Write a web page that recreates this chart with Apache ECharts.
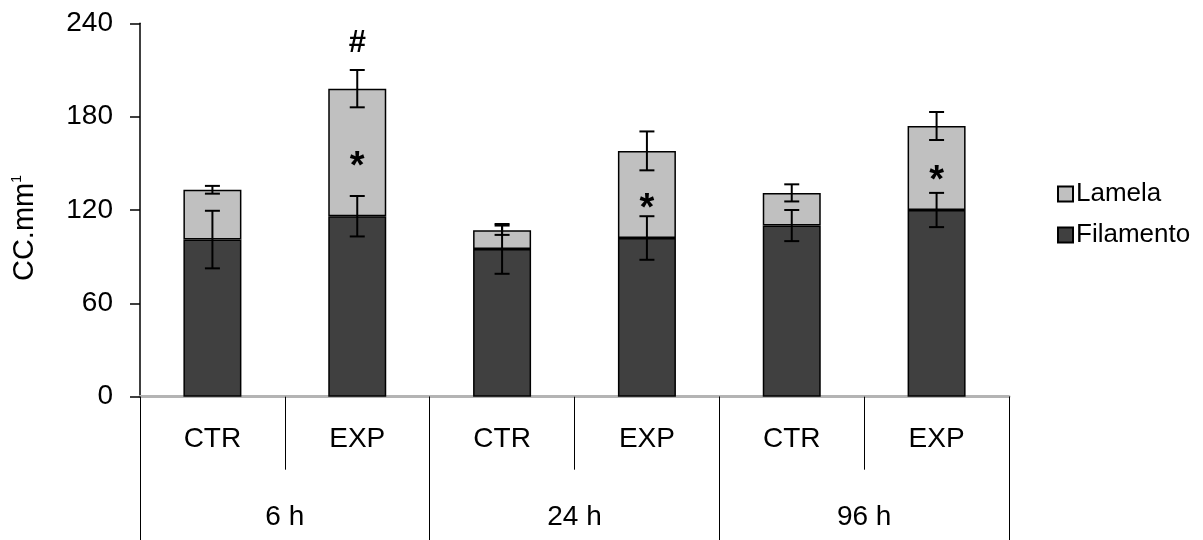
<!DOCTYPE html>
<html>
<head>
<meta charset="utf-8">
<script src="https://cdn.jsdelivr.net/npm/echarts@6/dist/echarts.min.js"></script>
<style>
html,body{margin:0;padding:0;background:#fff;}
#chart{width:1203px;height:540px;}
</style>
</head>
<body>
<div id="chart"></div>
<script>
// ---- data ----
var categories = ['CTR', 'EXP', 'CTR', 'EXP', 'CTR', 'EXP'];
var groups = ['6 h', '24 h', '96 h'];
var filamento = [101, 116, 95, 102, 110, 120];
var lamela = [32, 82, 12, 56, 21, 54];
var filamentoErr = [18.5, 13, 16, 14, 10, 11];
var lamelaErr = [2.5, 12, 3, 12.5, 5.5, 9];
var yTicks = [0, 60, 120, 180, 240];
// significance marks: [barIndex, value, text]
var marks = [[1, 227, '#'], [1, 154, '*'], [3, 127, '*'], [5, 145, '*']];

var FONT = 'Liberation Sans, Arial, sans-serif';

var filErrData = filamento.map(function (v, i) { return [i, v, filamentoErr[i]]; });
var lamErrData = lamela.map(function (v, i) { return [i, filamento[i] + v, lamelaErr[i]]; });

function errRender(params, api) {
  var x = api.value(0), c = api.value(1), e = api.value(2);
  var top = api.coord([x, c + e]);
  var bot = api.coord([x, c - e]);
  var hw = 7.5;
  var st = { stroke: '#000', lineWidth: 2 };
  return {
    type: 'group',
    children: [
      { type: 'line', shape: { x1: top[0], y1: top[1], x2: bot[0], y2: bot[1] }, style: st },
      { type: 'line', shape: { x1: top[0] - hw, y1: top[1], x2: top[0] + hw, y2: top[1] }, style: st },
      { type: 'line', shape: { x1: bot[0] - hw, y1: bot[1], x2: bot[0] + hw, y2: bot[1] }, style: st }
    ]
  };
}

var chart = echarts.init(document.getElementById('chart'), null, { renderer: 'canvas' });
var option = {
  animation: false,
  backgroundColor: '#fff',
  grid: { left: 140, right: 194, top: 23.3, bottom: 143.3, containLabel: false },
  graphic: [
    {
      type: 'text',
      x: 25,
      y: 228,
      rotation: Math.PI / 2,
      style: {
        text: '{a|CC.mm}{s|1}',
        textAlign: 'center',
        textVerticalAlign: 'middle',
        rich: {
          a: { fontFamily: FONT, fontSize: 29, fill: '#000' },
          s: { fontFamily: FONT, fontSize: 14, fill: '#000', verticalAlign: 'top', padding: [0, 0, 14, 0] }
        }
      }
    }
  ],
  legend: {
    orient: 'vertical',
    left: 1052,
    top: 176,
    itemWidth: 15,
    itemHeight: 15,
    itemGap: 15,
    icon: 'rect',
    data: ['Lamela', 'Filamento'],
    textStyle: { fontFamily: FONT, fontSize: 26, color: '#000', padding: [0, 0, 0, -2] }
  },
  xAxis: [
    {
      type: 'category',
      data: categories,
      position: 'bottom',
      axisLine: { show: true, lineStyle: { color: '#b4b4b4', width: 3 } },
      axisTick: { show: true, length: 73, interval: 0, lineStyle: { color: '#000', width: 1 } },
      axisLabel: { margin: 29, fontFamily: FONT, fontSize: 28, color: '#000', interval: 0 }
    },
    {
      type: 'category',
      data: groups,
      position: 'bottom',
      axisLine: { show: false },
      axisTick: { show: true, length: 145, interval: 0, lineStyle: { color: '#000', width: 1 } },
      axisLabel: { margin: 107, fontFamily: FONT, fontSize: 28, color: '#000', interval: 0 }
    }
  ],
  yAxis: {
    type: 'value',
    min: 0,
    max: 240,
    interval: 60,
    axisLine: { show: true, lineStyle: { color: '#000', width: 1.5 } },
    axisTick: { show: true, length: 10, lineStyle: { color: '#000', width: 1.5 } },
    axisLabel: {
      margin: 27, fontFamily: FONT, fontSize: 28, color: '#000',
      formatter: function (v) { return yTicks.indexOf(v) >= 0 ? String(v) : ''; }
    },
    splitLine: { show: false }
  },
  series: [
    {
      name: 'Filamento',
      type: 'bar',
      stack: 'total',
      data: filamento,
      barWidth: 58,
      itemStyle: { color: '#404040', borderColor: '#000', borderWidth: 1.5 }
    },
    {
      name: 'Lamela',
      type: 'bar',
      stack: 'total',
      data: lamela,
      barWidth: 58,
      itemStyle: { color: '#c0c0c0', borderColor: '#000', borderWidth: 1.5 }
    },
    {
      name: 'filErr',
      type: 'custom',
      renderItem: errRender,
      data: filErrData,
      z: 10
    },
    {
      name: 'lamErr',
      type: 'custom',
      renderItem: errRender,
      data: lamErrData,
      z: 10
    },
    {
      name: 'marks',
      type: 'custom',
      data: marks,
      z: 11,
      renderItem: function (params, api) {
        var p = api.coord([api.value(0), api.value(1)]);
        var t = marks[params.dataIndex][2];
        var isStar = t === '*';
        return {
          type: 'text',
          style: {
            text: t,
            x: p[0],
            y: p[1] + (isStar ? 10 : 0),
            textAlign: 'center',
            textVerticalAlign: 'middle',
            fontFamily: FONT,
            fontSize: isStar ? 38 : 31,
            fontWeight: 'bold',
            fill: '#000'
          }
        };
      }
    }
  ]
};
chart.setOption(option);
</script>
</body>
</html>
